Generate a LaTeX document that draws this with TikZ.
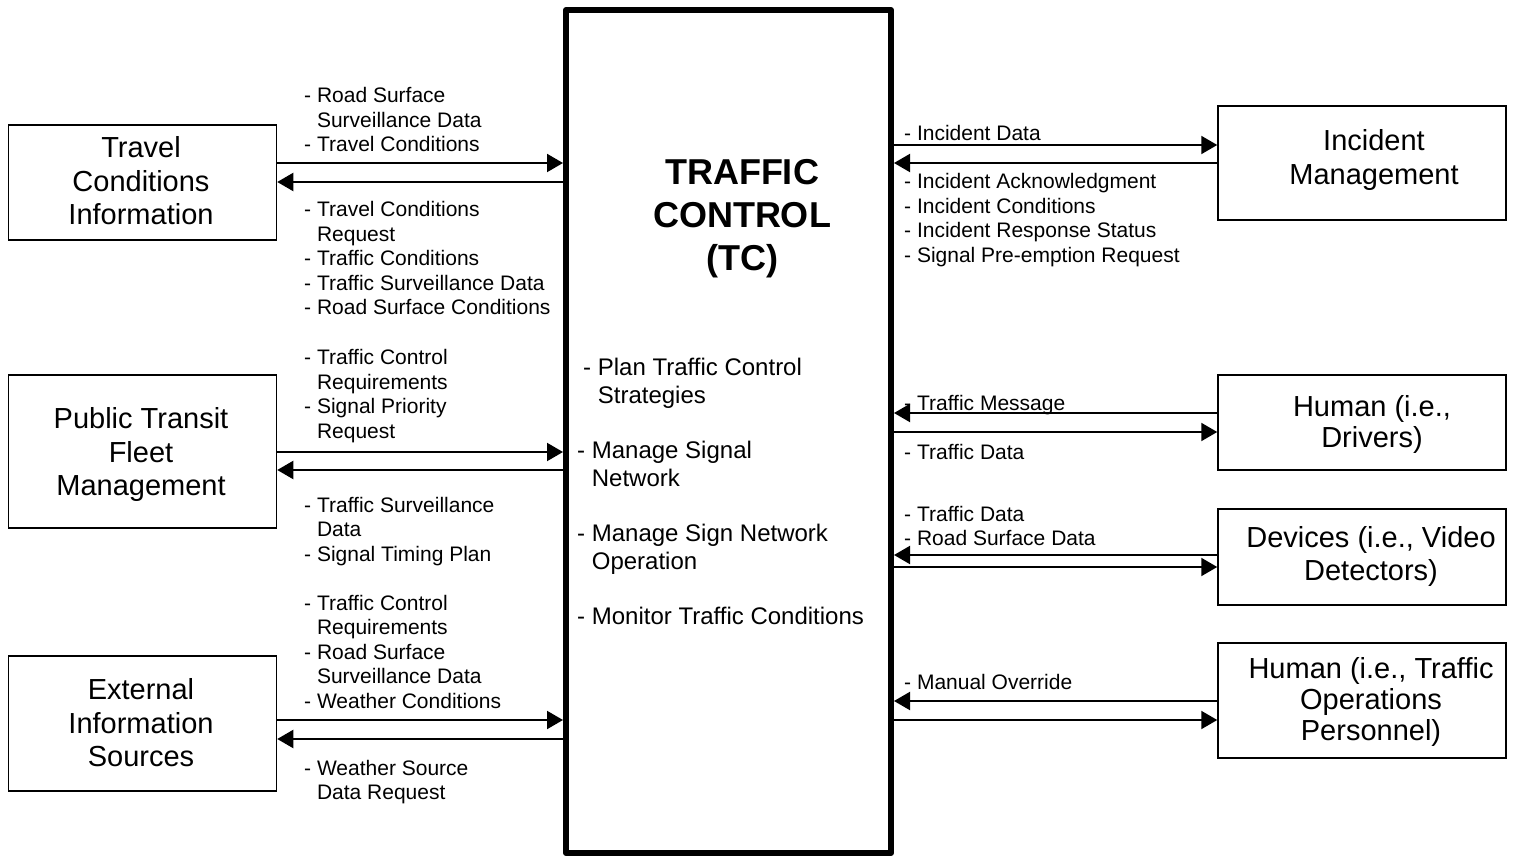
\documentclass[tikz,border=0pt]{standalone}
\usepackage{fontspec}
\setmainfont{Liberation Sans}
\usetikzlibrary{arrows.meta}
\newcommand\ml[2][l]{\begin{tabular}[t]{@{}#1@{}}#2\end{tabular}}
\newcommand\ind{\phantom{- }}
\begin{document}
\begin{tikzpicture}[x=1pt,y=-1pt,
  lbox/.style={draw, line width=1.5pt, minimum width=268pt, inner sep=0pt},
  rbox/.style={draw, line width=1.5pt, minimum width=288pt, inner sep=0pt},
  boxtxt/.style={font=\fontsize{29}{33.5}\selectfont, align=center, inner sep=0pt},
  boxtxtn/.style={font=\fontsize{29}{31}\selectfont, align=center, inner sep=0pt},
  lbl/.style={font=\fontsize{21}{24.5}\selectfont, anchor=base west, inner sep=0pt},
  fn/.style={font=\fontsize{24}{28}\selectfont, anchor=base west, inner sep=0pt},
  arr/.style={line width=2pt, -{Triangle[length=16pt,width=18pt]}},
]
\fill[white] (0,0) rectangle (1515,858);
\useasboundingbox (0,0) rectangle (1515,858);

% central box
\node[draw, line width=6pt, line join=round, minimum width=325pt, minimum height=843pt, inner sep=0pt] (tc) at (728.5,431.5) {};
\node[font=\fontsize{36}{43}\selectfont\bfseries, anchor=base, inner sep=0pt] (title) at (742,185) {\ml[c]{TRAFFIC\\CONTROL\\(TC)}};
\node[fn] (f1) at (583,375.5) {\ml{- Plan Traffic Control\\\ind Strategies}};
\node[fn] (f2) at (577,458.5) {\ml{- Manage Signal\\\ind Network}};
\node[fn] (f3) at (577,541.5) {\ml{- Manage Sign Network\\\ind Operation}};
\node[fn] (f4) at (577,624.5) {- Monitor Traffic Conditions};

% left boxes
\node[lbox, minimum height=115pt] (tci) at (142.5,182.5) {};
\node[boxtxt] (tcit) at (141,181) {Travel\\Conditions\\Information};
\node[lbox, minimum height=153pt] (ptf) at (142.5,451.5) {};
\node[boxtxt] (ptft) at (141,455) {Public Transit\\Fleet\\Management};
\node[lbox, minimum height=135pt] (eis) at (142.5,723.5) {};
\node[boxtxt] (eist) at (141,723) {External\\Information\\Sources};

% right boxes
\node[rbox, minimum height=114pt] (im) at (1362,163) {};
\node[boxtxt] (imt) at (1374,160) {Incident\\Management};
\node[rbox, minimum height=95pt] (hd) at (1362,422.5) {};
\node[boxtxtn] (hdt) at (1372,424) {Human (i.e.,\\Drivers)};
\node[rbox, minimum height=96pt] (dv) at (1362,557) {};
\node[boxtxt] (dvt) at (1371,556.5) {Devices (i.e., Video\\Detectors)};
\node[rbox, minimum height=115pt] (ho) at (1362,700.5) {};
\node[boxtxtn] (hot) at (1371,702) {Human (i.e., Traffic\\Operations\\Personnel)};

% left connectors
\draw[arr] (tci.east |- 0,163) -- (tc.west |- 0,163);
\draw[arr] (tc.west |- 0,182) -- (tci.east |- 0,182);
\draw[arr] (ptf.east |- 0,452) -- (tc.west |- 0,452);
\draw[arr] (tc.west |- 0,470) -- (ptf.east |- 0,470);
\draw[arr] (eis.east |- 0,720) -- (tc.west |- 0,720);
\draw[arr] (tc.west |- 0,739) -- (eis.east |- 0,739);

% right connectors
\draw[arr] (tc.east |- 0,145) -- (im.west |- 0,145);
\draw[arr] (im.west |- 0,163) -- (tc.east |- 0,163);
\draw[arr] (hd.west |- 0,413) -- (tc.east |- 0,413);
\draw[arr] (tc.east |- 0,432) -- (hd.west |- 0,432);
\draw[arr] (dv.west |- 0,555) -- (tc.east |- 0,555);
\draw[arr] (tc.east |- 0,567) -- (dv.west |- 0,567);
\draw[arr] (ho.west |- 0,701) -- (tc.east |- 0,701);
\draw[arr] (tc.east |- 0,720) -- (ho.west |- 0,720);

% left labels
\node[lbl] (l1) at (304,103) {\ml{- Road Surface\\\ind Surveillance Data\\- Travel Conditions}};
\node[lbl] (l2) at (304,217) {\ml{- Travel Conditions\\\ind Request\\- Traffic Conditions\\- Traffic Surveillance Data\\- Road Surface Conditions}};
\node[lbl] (l3) at (304,365) {\ml{- Traffic Control\\\ind Requirements\\- Signal Priority\\\ind Request}};
\node[lbl] (l4) at (304,512) {\ml{- Traffic Surveillance\\\ind Data\\- Signal Timing Plan}};
\node[lbl] (l5) at (304,610) {\ml{- Traffic Control\\\ind Requirements\\- Road Surface\\\ind Surveillance Data\\- Weather Conditions}};
\node[lbl] (l6) at (304,775) {\ml{- Weather Source\\\ind Data Request}};

% right labels
\node[lbl] (r1) at (904,141) {- Incident Data};
\node[lbl] (r2) at (904,189) {\ml{- Incident Acknowledgment\\- Incident Conditions\\- Incident Response Status\\- Signal Pre-emption Request}};
\node[lbl] (r3) at (904,410) {- Traffic Message};
\node[lbl] (r4) at (904,459) {- Traffic Data};
\node[lbl] (r5) at (904,521) {\ml{- Traffic Data\\- Road Surface Data}};
\node[lbl] (r6) at (904,689) {- Manual Override};
\end{tikzpicture}
\end{document}
